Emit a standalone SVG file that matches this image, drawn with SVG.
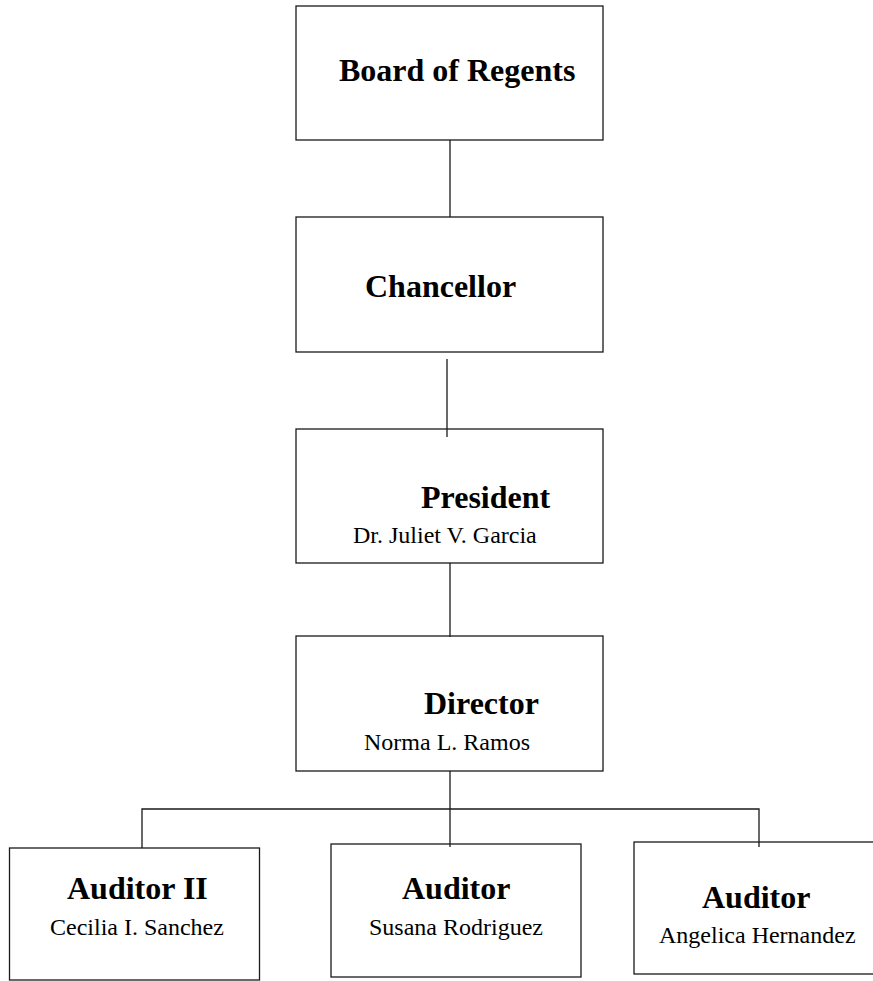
<svg xmlns="http://www.w3.org/2000/svg" width="873" height="981" viewBox="0 0 873 981">
<style>
.box{fill:#fff;stroke:#1a1a1a;stroke-width:1.3}
.ln{fill:none;stroke:#1a1a1a;stroke-width:1.3}
.t{font-family:"Liberation Serif","Times New Roman",serif;font-size:32px;font-weight:bold;fill:#000}
.s{font-family:"Liberation Serif","Times New Roman",serif;font-size:24px;fill:#000}
</style>
<rect width="873" height="981" fill="#fff"/>
<g id="board">
<rect class="box" x="296" y="6" width="307" height="134"/>
<text class="t" x="339" y="81">Board of Regents</text>
</g>
<g id="chancellor">
<rect class="box" x="296" y="217" width="307" height="135"/>
<text class="t" x="365" y="297">Chancellor</text>
</g>
<g id="president">
<rect class="box" x="296" y="429" width="307" height="134"/>
<text class="t" x="421" y="508">President</text>
<text class="s" x="353" y="543">Dr. Juliet V. Garcia</text>
</g>
<g id="director">
<rect class="box" x="296" y="636" width="307" height="135"/>
<text class="t" x="424" y="714">Director</text>
<text class="s" x="364" y="750">Norma L. Ramos</text>
</g>
<g id="auditor2">
<rect class="box" x="9.5" y="848" width="250" height="132"/>
<text class="t" x="67" y="899">Auditor II</text>
<text class="s" x="50" y="935">Cecilia I. Sanchez</text>
</g>
<g id="auditor-susana">
<rect class="box" x="331" y="844" width="250" height="133"/>
<text class="t" x="402" y="899">Auditor</text>
<text class="s" x="369" y="935">Susana Rodriguez</text>
</g>
<g id="auditor-angelica">
<rect class="box" x="634" y="842" width="250" height="132"/>
<text class="t" x="702" y="908">Auditor</text>
<text class="s" x="659" y="943">Angelica Hernandez</text>
</g>
<g id="connectors">
<line class="ln" x1="450" y1="140" x2="450" y2="217"/>
<line class="ln" x1="447" y1="359" x2="447" y2="437"/>
<line class="ln" x1="450" y1="563" x2="450" y2="637"/>
<line class="ln" x1="450" y1="771" x2="450" y2="847"/>
<polyline class="ln" points="142,848 142,809 759,809 759,847"/>
</g>
</svg>
